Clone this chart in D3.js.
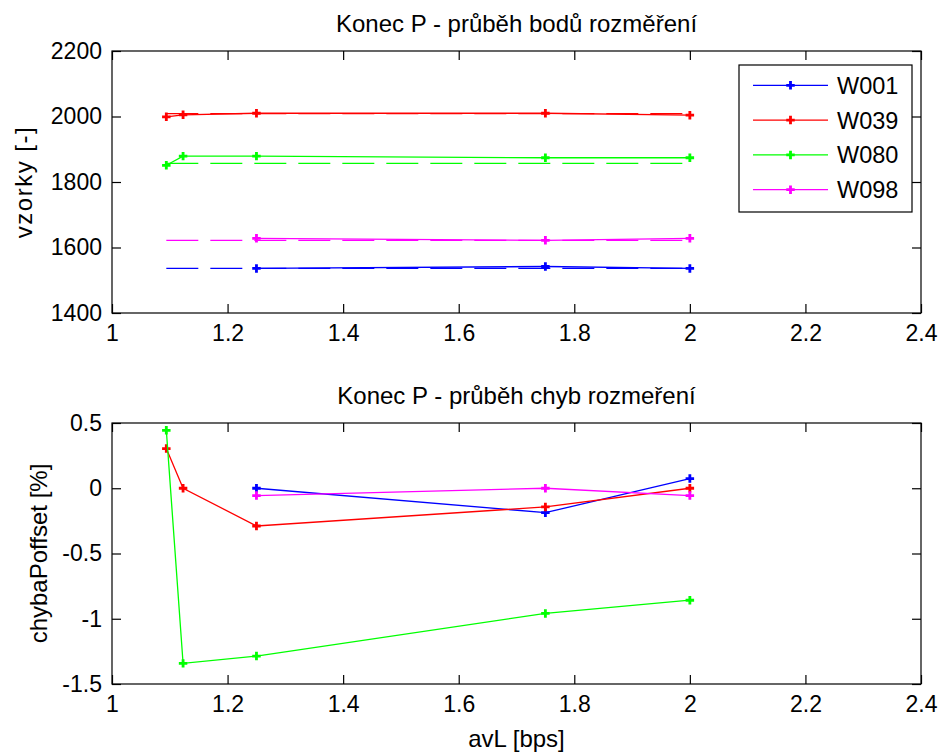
<!DOCTYPE html>
<html>
<head>
<meta charset="utf-8">
<script src="https://cdn.jsdelivr.net/npm/d3@7"></script>
<style>
  body { margin: 0; background: #fff; }
  svg { display: block; font-family: "Liberation Sans", Arial, sans-serif; }
</style>
</head>
<body>
<div id="chart"></div>
<script>
// x positions (avL) shared by both subplots
const avL = [1.094, 1.123, 1.25, 1.75, 2.0];
const seriesNames = ["W001", "W039", "W080", "W098"];
const seriesColors = ["#0000ff", "#ff0000", "#00ff00", "#ff00ff"];

// top plot - measured points (null = not measured)
const w001Pts = [null, null, 1536, 1542, 1536];
const w039Pts = [1999, 2005, 2010, 2010, 2004];
const w080Pts = [1851, 1879, 1879, 1874, 1874];
const w098Pts = [null, null, 1628, 1622, 1628];
// top plot - reference levels (dashed lines)
const refLevels = [1536, 2009, 1857, 1622];

// bottom plot - offset error [%]
const w001Err = [null, null, 0, -0.187, 0.074];
const w039Err = [0.304, 0, -0.289, -0.143, 0];
const w080Err = [0.444, -1.342, -1.286, -0.959, -0.858];
const w098Err = [null, null, -0.056, 0, -0.056];

const xTicks = [1, 1.2, 1.4, 1.6, 1.8, 2, 2.2, 2.4];
const yTicksTop = [1400, 1600, 1800, 2000, 2200];
const yTicksBottom = [-1.5, -1, -0.5, 0, 0.5];

const width = 942;
const height = 754;
const left = 112, right = 921;

const svg = d3.select("#chart").append("svg")
  .attr("width", width)
  .attr("height", height);

const xScale = d3.scaleLinear().domain([1, 2.4]).range([left, right]);

const fmt = (d) => String(+d.toFixed(1));

/**
 * Draws one MATLAB-like axes box with inward ticks on all sides
 */
function drawAxes(top, bottom, yDomain, yTicks, title, yLabel, labelX) {
  const yScale = d3.scaleLinear().domain(yDomain).range([bottom, top]);
  const g = svg.append("g");

  const fontTicks = "23px";

  // bottom axis with labels
  g.append("g")
    .attr("transform", `translate(0, ${bottom})`)
    .call(d3.axisBottom(xScale).tickValues(xTicks).tickFormat(fmt)
      .tickSizeInner(-9).tickSizeOuter(0).tickPadding(12))
    .call((a) => a.select(".domain").remove())
    .call((a) => a.selectAll("text").attr("font-size", fontTicks).attr("font-family", null).attr("fill", "#000"));

  // top axis, ticks only
  g.append("g")
    .attr("transform", `translate(0, ${top})`)
    .call(d3.axisTop(xScale).tickValues(xTicks).tickFormat("")
      .tickSizeInner(-9).tickSizeOuter(0))
    .call((a) => a.select(".domain").remove());

  // left axis with labels
  g.append("g")
    .attr("transform", `translate(${left}, 0)`)
    .call(d3.axisLeft(yScale).tickValues(yTicks).tickFormat(fmt)
      .tickSizeInner(-9).tickSizeOuter(0).tickPadding(10))
    .call((a) => a.select(".domain").remove())
    .call((a) => a.selectAll("text").attr("font-size", fontTicks).attr("font-family", null).attr("fill", "#000"));

  // right axis, ticks only
  g.append("g")
    .attr("transform", `translate(${right}, 0)`)
    .call(d3.axisRight(yScale).tickValues(yTicks).tickFormat("")
      .tickSizeInner(-9).tickSizeOuter(0))
    .call((a) => a.select(".domain").remove());

  g.selectAll(".tick line").attr("stroke", "#000").attr("stroke-width", 1.2);

  // box
  g.append("rect")
    .attr("x", left).attr("y", top)
    .attr("width", right - left).attr("height", bottom - top)
    .attr("fill", "none").attr("stroke", "#000").attr("stroke-width", 1.2);

  // title
  g.append("text")
    .attr("x", (left + right) / 2)
    .attr("y", top - 19.5)
    .attr("text-anchor", "middle")
    .attr("font-size", "24px")
    .text(title);

  // y label
  g.append("text")
    .attr("transform", `translate(${labelX}, ${(top + bottom) / 2}) rotate(-90)`)
    .attr("text-anchor", "middle")
    .attr("font-size", "24px")
    .attr("letter-spacing", yLabel.length < 12 ? "1.5px" : "0px")
    .text(yLabel);

  return yScale;
}

const symbol = d3.symbol(d3.symbolCross, 40);

function drawSeries(yScale, values, color) {
  const pts = avL.map((x, i) => ({ x: x, y: values[i] })).filter((d) => d.y !== null);
  const line = d3.line().x((d) => xScale(d.x)).y((d) => yScale(d.y));
  svg.append("path")
    .datum(pts)
    .attr("d", line)
    .attr("fill", "none")
    .attr("stroke", color)
    .attr("stroke-width", 1.3);
  svg.selectAll(null)
    .data(pts)
    .enter()
    .append("path")
    .attr("d", symbol)
    .attr("transform", (d) => `translate(${xScale(d.x)}, ${yScale(d.y)})`)
    .attr("fill", color);
}

// ---- top plot ----
const yTop = drawAxes(51, 313, [1400, 2200], yTicksTop,
  "Konec P - průběh bodů rozměření", "vzorky [-]", 32);

// reference dashed lines
refLevels.forEach((lvl, i) => {
  svg.append("path")
    .datum([avL[0], avL[avL.length - 1]])
    .attr("d", d3.line().x((d) => xScale(d)).y(() => yTop(lvl)))
    .attr("fill", "none")
    .attr("stroke", seriesColors[i])
    .attr("stroke-width", 1.3)
    .attr("stroke-dasharray", "32,12");
});

[w001Pts, w039Pts, w080Pts, w098Pts].forEach((vals, i) =>
  drawSeries(yTop, vals, seriesColors[i]));

// legend
const legend = svg.append("g");
legend.append("rect")
  .attr("x", 739).attr("y", 65)
  .attr("width", 173).attr("height", 147)
  .attr("fill", "#fff").attr("stroke", "#000").attr("stroke-width", 1.2);
seriesNames.forEach((name, i) => {
  const ly = 85.3 + i * 34.8;
  legend.append("line")
    .attr("x1", 753).attr("x2", 828)
    .attr("y1", ly).attr("y2", ly)
    .attr("stroke", seriesColors[i]).attr("stroke-width", 1.3);
  legend.append("path")
    .attr("d", symbol)
    .attr("transform", `translate(790.5, ${ly})`)
    .attr("fill", seriesColors[i]);
  legend.append("text")
    .attr("x", 837).attr("y", ly + 8.5)
    .attr("font-size", "23.5px")
    .text(name);
});

// ---- bottom plot ----
const yBottom = drawAxes(423, 684, [-1.5, 0.5], yTicksBottom,
  "Konec P - průběh chyb rozmeření", "chybaPoffset [%]", 47);

[w001Err, w039Err, w080Err, w098Err].forEach((vals, i) =>
  drawSeries(yBottom, vals, seriesColors[i]));

// x label
svg.append("text")
  .attr("x", (left + right) / 2)
  .attr("y", 747)
  .attr("text-anchor", "middle")
  .attr("font-size", "24px")
  .text("avL [bps]");
</script>
</body>
</html>
